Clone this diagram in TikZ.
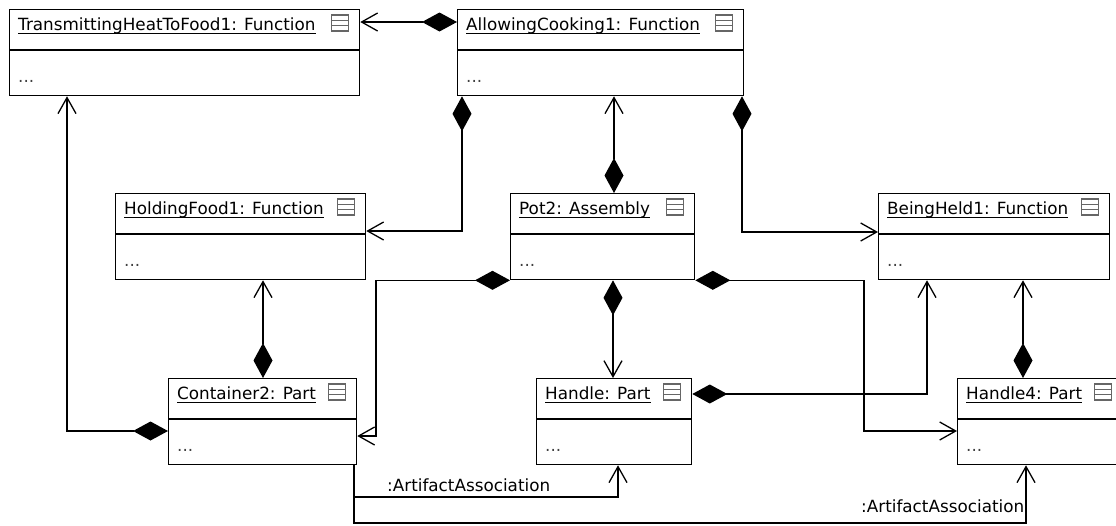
\documentclass[tikz,border=0pt]{standalone}
\usepackage{fontspec}
\setmainfont{DejaVu Sans}
\usetikzlibrary{arrows.meta,calc}

\tikzset{
  objbox/.style={draw, line width=1.3pt, inner sep=0pt, minimum height=86pt, anchor=north west},
  titletext/.style={anchor=base west, inner sep=0pt, font=\fontsize{16.8}{19}\selectfont},
  dotstext/.style={anchor=base west, inner sep=0pt, text=black!75, font=\fontsize{16.8}{19}\selectfont},
  lbl/.style={anchor=base west, inner sep=0pt, font=\fontsize{16.8}{19}\selectfont},
  iconbox/.style={draw=black!60, line width=1.4pt},
  conn/.style={line width=1.3pt},
  comp/.style={conn, {Diamond[length=35pt,width=19pt]}-{Straight Barb[length=16pt,width=18pt]}},
  assoc/.style={conn, -{Straight Barb[length=16pt,width=18pt]}}
}

\newcommand{\umlobj}[5]{%
  \node[objbox, minimum width=#4pt] (#1) at (#2,#3) {};
  \draw[line width=1.3pt] ($(#1.north west)+(0pt,-41pt)$) -- ($(#1.north east)+(0pt,-41pt)$);
  \node[titletext] (#1t) at ($(#1.north west)+(9pt,-21pt)$) {#5};
  \draw[line width=1pt] ($(#1t.base west)+(0pt,-3pt)$) -- ($(#1t.base east)+(0pt,-3pt)$);
  \node[dotstext] (#1d) at ($(#1.north west)+(9pt,-73pt)$) {...};
  \draw[iconbox] ($(#1.north east)+(-29pt,-6pt)$) rectangle ($(#1.north east)+(-12pt,-22pt)$);
  \draw[iconbox] ($(#1.north east)+(-29pt,-11.3pt)$) -- ($(#1.north east)+(-12pt,-11.3pt)$);
  \draw[iconbox] ($(#1.north east)+(-29pt,-16.7pt)$) -- ($(#1.north east)+(-12pt,-16.7pt)$);
}

\begin{document}
\begin{tikzpicture}[x=1pt,y=-1pt]
\useasboundingbox (0,0) rectangle (1116,525);
\clip (0,0) rectangle (1116,525);
\fill[white] (0,0) rectangle (1116,525);

\umlobj{TH}{9}{9}{350}{TransmittingHeatToFood1: Function}
\umlobj{AC}{457}{9}{286}{AllowingCooking1: Function}
\umlobj{HF}{115}{193}{250}{HoldingFood1: Function}
\umlobj{P2}{510}{193}{184}{Pot2: Assembly}
\umlobj{BH}{878}{193}{231}{BeingHeld1: Function}
\umlobj{C2}{168}{378}{188}{Container2: Part}
\umlobj{H}{536}{378}{155}{Handle: Part}
\umlobj{H4}{957}{378}{165}{Handle4: Part}

% compositions
\draw[comp] (AC.west |- 0,22) -- (TH.east |- 0,22);
\draw[comp] (AC.south -| 462,0) |- (HF.east |- 0,231);
\draw[comp] (P2.north -| 614,0) -- (AC.south -| 614,0);
\draw[comp] (AC.south -| 742,0) |- (BH.west |- 0,232);
\draw[comp] (P2.south west) -| (376,436) -- (C2.east |- 0,436);
\draw[comp] (P2.south -| 613,0) -- (H.north -| 613,0);
\draw[comp] (P2.south east) -| (864,431) -- (H4.west |- 0,431);
\draw[comp] (H.east |- 0,394) -| (BH.south -| 927,0);
\draw[comp] (H4.north -| 1023,0) -- (BH.south -| 1023,0);
\draw[comp] (C2.north -| 263,0) -- (HF.south -| 263,0);
\draw[comp] (C2.west |- 0,431) -| (TH.south -| 67,0);

% artifact associations
\draw[assoc] (C2.south -| 354,0) |- (618,497) -- (H.south -| 618,0);
\draw[assoc] (C2.south -| 354,0) |- (1026,523) -- (H4.south -| 1026,0);
\node[lbl] (l1) at (387,491) {:ArtifactAssociation};
\node[lbl] (l2) at (861,512) {:ArtifactAssociation};
\end{tikzpicture}
\end{document}
